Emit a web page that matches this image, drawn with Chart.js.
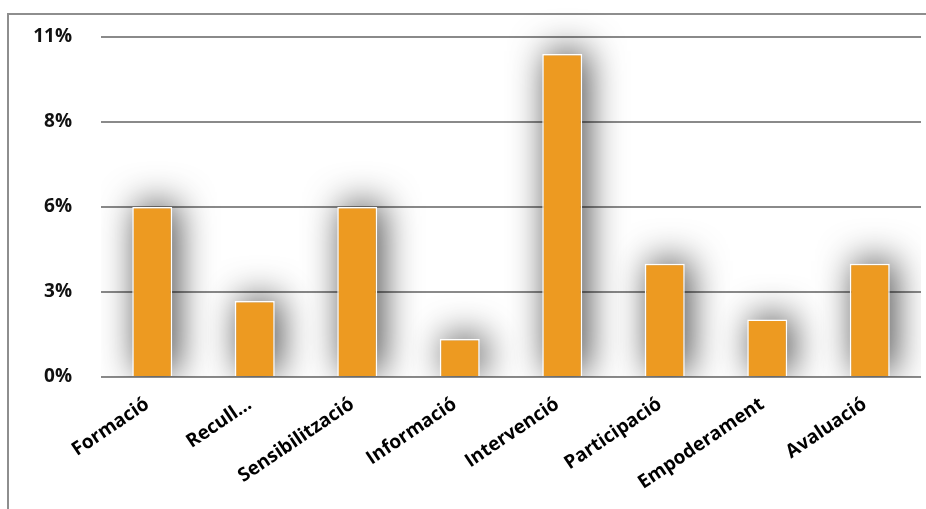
<!DOCTYPE html>
<html lang="ca">
<head>
  <meta charset="UTF-8"/>
  <title>Percentatge per tipus d'acció</title>
  <script src="https://cdn.jsdelivr.net/npm/chart.js"></script>
  <style>
    html, body { margin: 0; padding: 0; background: #fff; overflow: hidden; }
    .wrap { position: relative; width: 926px; height: 509px; }
    .frame {
      position: absolute;
      left: 7px;
      top: 13px;
      width: 940px;
      height: 520px;
      border: 2px solid #8e8e8e;
      box-sizing: border-box;
    }
    canvas { position: absolute; left: 0; top: 0; }
  </style>
</head>
<body>
  <div class="wrap">
    <div class="frame"></div>
    <canvas id="barChart" width="926" height="509"></canvas>
  </div>
  <script>
    const categories = ["Formació", "Recull...", "Sensibilització", "Informació", "Intervenció", "Participació", "Empoderament", "Avaluació"];
    const percentages = [5.5, 2.46, 5.5, 1.23, 10.45, 3.66, 1.86, 3.66];
    const yTicks = [0, 2.75, 5.5, 8.25, 11];
    const yTickLabels = ["0%", "3%", "6%", "8%", "11%"];

    // soft dark glow behind the bars, drawn from the bar elements' own geometry
    const barShadow = {
      id: "barShadow",
      beforeDatasetsDraw(chart) {
        const ctx = chart.ctx;
        const far = 10000;
        ctx.save();
        const a = chart.chartArea;
        ctx.beginPath();
        ctx.rect(a.left, 0, a.right - a.left, a.bottom);
        ctx.clip();
        ctx.shadowColor = "rgba(0,0,0,0.72)";
        ctx.shadowBlur = 36;
        ctx.shadowOffsetX = far + 5;
        ctx.shadowOffsetY = -3;
        ctx.fillStyle = "#000";
        chart.getDatasetMeta(0).data.forEach(bar => {
          const w = bar.width;
          ctx.fillRect(bar.x - w / 2 - far, bar.y, w, bar.base - bar.y);
        });
        ctx.restore();
      }
    };

    new Chart(document.getElementById("barChart"), {
      type: "bar",
      data: {
        labels: categories,
        datasets: [{
          data: percentages,
          backgroundColor: "#ED9A21",
          borderColor: "#ffffff",
          borderWidth: 1.5,
          categoryPercentage: 1,
          barPercentage: 0.39
        }]
      },
      options: {
        responsive: false,
        animation: false,
        layout: { padding: { left: 0, right: 5, top: 37, bottom: 0 } },
        plugins: { legend: { display: false }, tooltip: { enabled: false } },
        scales: {
          x: {
            grid: { display: false, drawTicks: false },
            border: { display: false },
            ticks: {
              color: "#000",
              font: { family: "'Open Sans'", size: 19, weight: "bold" },
              maxRotation: 34,
              minRotation: 34,
              padding: 16,
              labelOffset: -5,
              autoSkip: false
            },
            afterFit(scale) { scale.height = 132; }
          },
          y: {
            min: 0,
            max: 11,
            afterBuildTicks(scale) {
              scale.ticks = yTicks.map(v => ({ value: v }));
            },
            grid: { color: "#8a8a8a", lineWidth: 2, drawTicks: false },
            border: { display: false },
            ticks: {
              color: "#111",
              font: { family: "'Open Sans'", size: 19, weight: "bold" },
              padding: 29,
              callback: (v, i) => yTickLabels[i]
            },
            afterFit(scale) {
              scale.width = 101;
              scale.paddingTop = 12;
            }
          }
        }
      },
      plugins: [barShadow]
    });
  </script>
</body>
</html>
